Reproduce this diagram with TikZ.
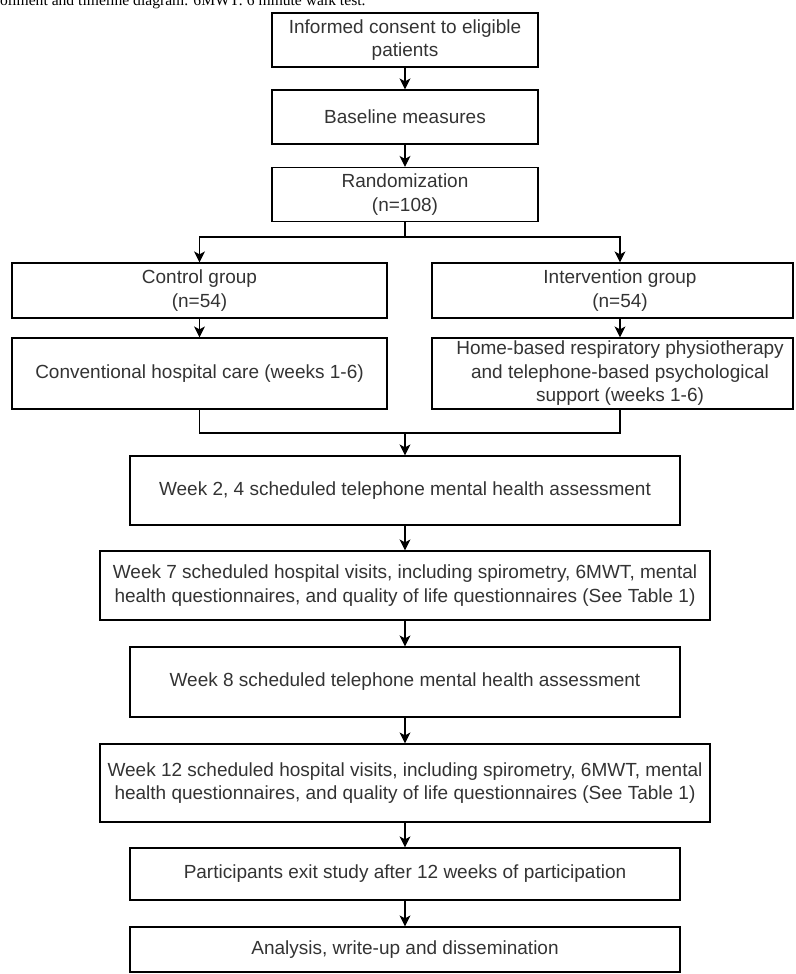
\documentclass[tikz,border=0pt]{standalone}
\usepackage{fontspec}
\setmainfont{Liberation Sans}
\newfontfamily\capfont{Liberation Serif}
\usepackage{tikz}
\usetikzlibrary{arrows.meta}
\definecolor{boxtext}{HTML}{333333}

\begin{document}
\begin{tikzpicture}[x=1pt, y=-1pt,
    txt/.style={text=boxtext, align=center, inner sep=0pt, font=\fontsize{19}{23.5}\selectfont},
    box/.style={txt, draw=black, line width=1.2pt},
    arr/.style={line width=1.2pt, -{Stealth[length=11pt, width=11pt, inset=3pt]}}]
  \useasboundingbox (0,0) rectangle (795,974);
  % caption, cut by the top edge
  \node[anchor=base west, inner sep=0pt, font=\capfont\fontsize{15.6}{18}\selectfont] (caption) at (0,6)
    {ollment and timeline diagram. 6MWT: 6 minute walk test.};

  \node[box, minimum width=266, minimum height=54] (consent) at (405,40) {Informed consent to eligible\\patients};
  \node[box, minimum width=266, minimum height=54] (baseline) at (405,117) {Baseline measures};
  \node[box, minimum width=266, minimum height=54] (random) at (405,194.5) {Randomization\\(n=108)};

  % two arms
  \node[box, minimum width=375, minimum height=55] (control) at (199.5,290.5) {Control group\\(n=54)};
  \node[box, minimum width=361, minimum height=55,
        label={[txt, xshift=7.5pt]center:Intervention group\\(n=54)}] (intv) at (612.5,290.5) {};
  \node[box, minimum width=375, minimum height=71] (conv) at (199.5,373.5) {Conventional hospital care (weeks 1-6)};
  \node[box, minimum width=361, minimum height=71,
        label={[txt, xshift=7.5pt]center:Home-based respiratory physiotherapy\\and telephone-based psychological\\support (weeks 1-6)}] (home) at (612.5,373.5) {};

  % follow-up
  \node[box, minimum width=550, minimum height=69] (wk24) at (405,490.5) {Week 2, 4 scheduled telephone mental health assessment};
  \node[box, minimum width=610, minimum height=69] (wk7) at (405,585.5) {Week 7 scheduled hospital visits, including spirometry, 6MWT, mental\\health questionnaires, and quality of life questionnaires (See Table 1)};
  \node[box, minimum width=550, minimum height=70] (wk8) at (405,682) {Week 8 scheduled telephone mental health assessment};
  \node[box, minimum width=610, minimum height=78] (wk12) at (405,783) {Week 12 scheduled hospital visits, including spirometry, 6MWT, mental\\health questionnaires, and quality of life questionnaires (See Table 1)};
  \node[box, minimum width=550, minimum height=52] (exit) at (405,874) {Participants exit study after 12 weeks of participation};
  \node[box, minimum width=550, minimum height=45] (analysis) at (405,949.5) {Analysis, write-up and dissemination};

  \coordinate (split) at (405,237);
  \coordinate (merge) at (405,433);

  \foreach \a/\b in {consent/baseline, baseline/random, wk24/wk7, wk7/wk8, wk8/wk12, wk12/exit, exit/analysis}
    \draw[arr] (\a) -- (\b);
  \draw[line width=1.2pt] (random) -- (split);
  \draw[arr] (split) -| (control);
  \draw[arr] (split) -| ([xshift=7.5pt]intv.north);
  \draw[arr] (control) -- (conv);
  \draw[arr] ([xshift=7.5pt]intv.south) -- ([xshift=7.5pt]home.north);
  \draw[line width=1.2pt] (conv) |- (merge) -| ([xshift=7.5pt]home.south);
  \draw[arr] (merge) -- (wk24);
\end{tikzpicture}
\end{document}
